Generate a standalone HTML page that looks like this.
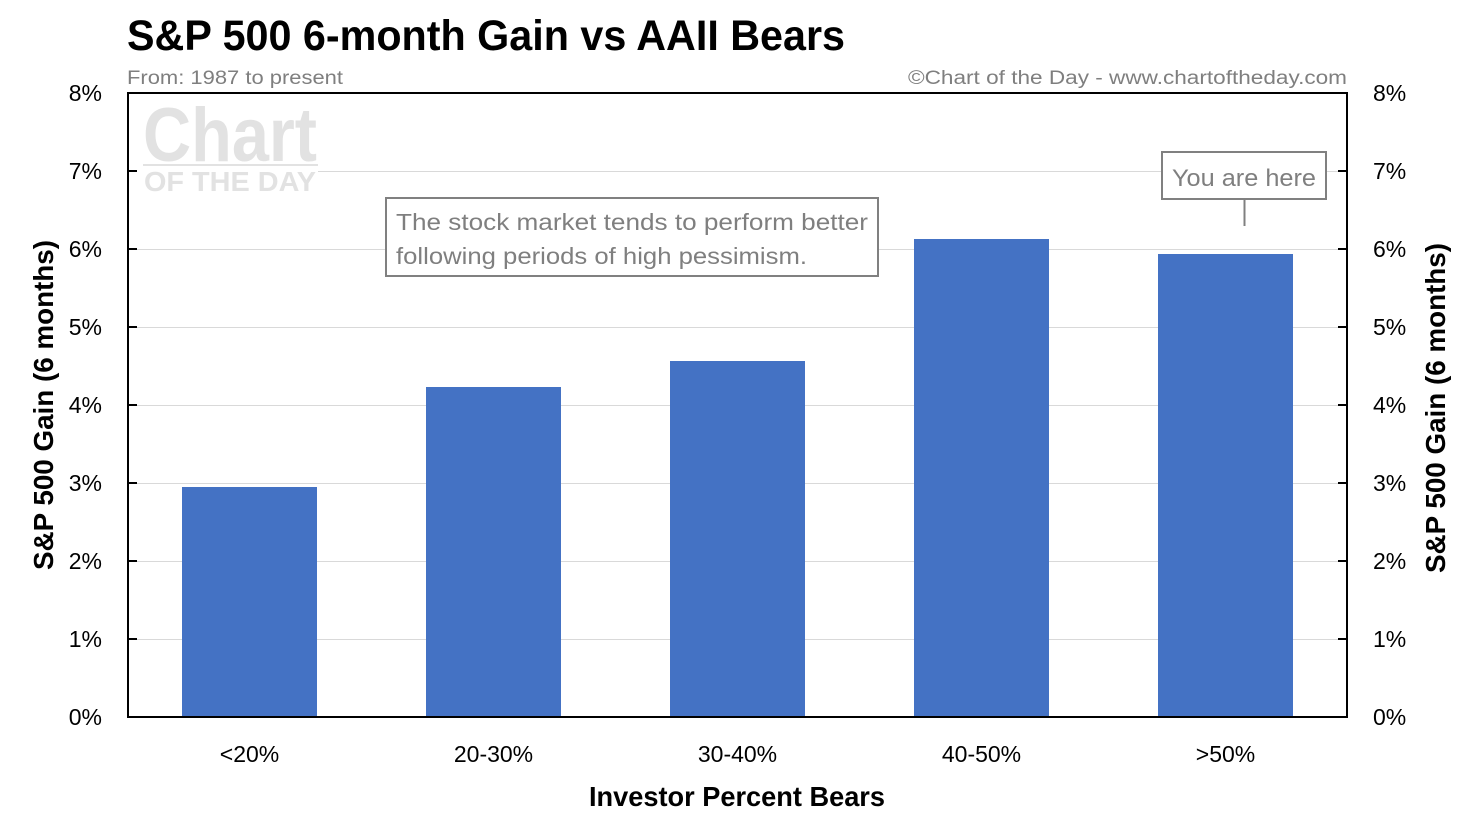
<!DOCTYPE html>
<html><head><meta charset="utf-8"><style>
html,body{margin:0;padding:0;background:#fff;}
svg{display:block;}
text{font-family:"Liberation Sans",sans-serif;}
</style></head><body>
<svg width="1477" height="837" viewBox="0 0 1477 837" xmlns="http://www.w3.org/2000/svg">
<rect width="1477" height="837" fill="#fff"/>
<!-- title -->
<text x="127" y="50" font-size="43" font-weight="bold" fill="#000" textLength="718" lengthAdjust="spacingAndGlyphs">S&amp;P 500 6-month Gain vs AAII Bears</text>
<text x="127" y="84" font-size="19" fill="#7f7f7f" textLength="216" lengthAdjust="spacingAndGlyphs">From: 1987 to present</text>
<text x="908" y="84" font-size="19" fill="#7f7f7f" textLength="439" lengthAdjust="spacingAndGlyphs">©Chart of the Day - www.chartoftheday.com</text>

<!-- watermark -->
<g fill="#e2e2e2">
<text x="143" y="161" font-size="76" font-weight="bold" textLength="174" lengthAdjust="spacingAndGlyphs">Chart</text>
<rect x="143" y="164" width="175" height="2"/>
<text x="144" y="191" font-size="28" font-weight="bold" textLength="172" lengthAdjust="spacingAndGlyphs">OF THE DAY</text>
</g>

<!-- gridlines -->
<g stroke="#d9d9d9" stroke-width="1">
<line x1="129" x2="1346" y1="639.5" y2="639.5"/>
<line x1="129" x2="1346" y1="561.5" y2="561.5"/>
<line x1="129" x2="1346" y1="483.5" y2="483.5"/>
<line x1="129" x2="1346" y1="405.5" y2="405.5"/>
<line x1="129" x2="1346" y1="327.5" y2="327.5"/>
<line x1="129" x2="1346" y1="249.5" y2="249.5"/>
<line x1="318" x2="1346" y1="171.5" y2="171.5"/>
</g>

<!-- bars -->
<g fill="#4472c4">
<rect x="182" y="487" width="135" height="230"/>
<rect x="426" y="387" width="135" height="330"/>
<rect x="670" y="361" width="135" height="356"/>
<rect x="914" y="239" width="135" height="478"/>
<rect x="1158" y="254" width="135" height="463"/>
</g>

<!-- frame -->
<rect x="128" y="93" width="1219" height="624" fill="none" stroke="#000" stroke-width="2"/>
<g stroke="#000" stroke-width="2">
<line x1="129" x2="137" y1="639" y2="639"/><line x1="129" x2="137" y1="561" y2="561"/>
<line x1="129" x2="137" y1="483" y2="483"/><line x1="129" x2="137" y1="405" y2="405"/>
<line x1="129" x2="137" y1="327" y2="327"/><line x1="129" x2="137" y1="249" y2="249"/>
<line x1="129" x2="137" y1="171" y2="171"/>
<line x1="1338" x2="1346" y1="639" y2="639"/><line x1="1338" x2="1346" y1="561" y2="561"/>
<line x1="1338" x2="1346" y1="483" y2="483"/><line x1="1338" x2="1346" y1="405" y2="405"/>
<line x1="1338" x2="1346" y1="327" y2="327"/><line x1="1338" x2="1346" y1="249" y2="249"/>
<line x1="1338" x2="1346" y1="171" y2="171"/>
</g>

<!-- y tick labels -->
<g font-size="23" fill="#000" text-anchor="end">
<text x="102" y="101">8%</text><text x="102" y="179">7%</text><text x="102" y="257">6%</text>
<text x="102" y="335">5%</text><text x="102" y="413">4%</text><text x="102" y="491">3%</text>
<text x="102" y="569">2%</text><text x="102" y="647">1%</text><text x="102" y="725">0%</text>
</g>
<g font-size="23" fill="#000">
<text x="1373" y="101">8%</text><text x="1373" y="179">7%</text><text x="1373" y="257">6%</text>
<text x="1373" y="335">5%</text><text x="1373" y="413">4%</text><text x="1373" y="491">3%</text>
<text x="1373" y="569">2%</text><text x="1373" y="647">1%</text><text x="1373" y="725">0%</text>
</g>

<!-- x labels -->
<g font-size="23" fill="#000" text-anchor="middle">
<text x="249.5" y="762">&lt;20%</text>
<text x="493.5" y="762">20-30%</text>
<text x="737.5" y="762">30-40%</text>
<text x="981.5" y="762">40-50%</text>
<text x="1225.5" y="762">&gt;50%</text>
</g>

<!-- axis titles -->
<text x="737" y="806" font-size="28" font-weight="bold" fill="#000" text-anchor="middle" textLength="296" lengthAdjust="spacingAndGlyphs">Investor Percent Bears</text>
<text transform="translate(53,405) rotate(-90)" x="0" y="0" font-size="28" font-weight="bold" fill="#000" text-anchor="middle" textLength="330" lengthAdjust="spacingAndGlyphs">S&amp;P 500 Gain (6 months)</text>
<text transform="translate(1445,408) rotate(-90)" x="0" y="0" font-size="28" font-weight="bold" fill="#000" text-anchor="middle" textLength="330" lengthAdjust="spacingAndGlyphs">S&amp;P 500 Gain (6 months)</text>

<!-- annotation -->
<rect x="386" y="198" width="492" height="78" fill="#fff" stroke="#808080" stroke-width="2"/>
<text x="396" y="230" font-size="23" fill="#7f7f7f" textLength="472" lengthAdjust="spacingAndGlyphs">The stock market tends to perform better</text>
<text x="396" y="264" font-size="23" fill="#7f7f7f" textLength="411" lengthAdjust="spacingAndGlyphs">following periods of high pessimism.</text>

<!-- you are here -->
<rect x="1162" y="152" width="164" height="47" fill="#fff" stroke="#808080" stroke-width="2"/>
<text x="1172" y="186" font-size="24" fill="#7f7f7f" textLength="144" lengthAdjust="spacingAndGlyphs">You are here</text>
<line x1="1244.5" x2="1244.5" y1="200" y2="226" stroke="#808080" stroke-width="2"/>
</svg>
</body></html>
